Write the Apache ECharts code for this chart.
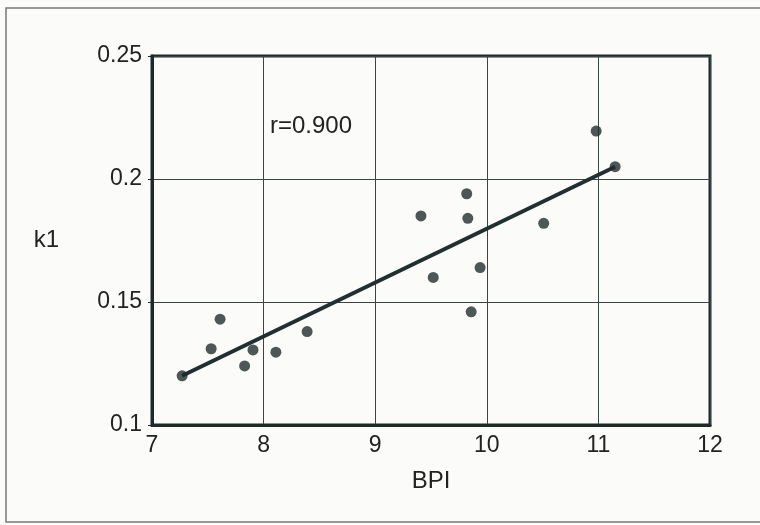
<!DOCTYPE html>
<html>
<head>
<meta charset="utf-8">
<script src="https://cdn.jsdelivr.net/npm/echarts@6/dist/echarts.min.js"></script>
<style>html,body{margin:0;padding:0;background:#fbfcfa;}#c{width:760px;height:525px;}</style>
</head>
<body>
<div id="c"></div>
<script>
var bpi = [7.27, 7.53, 7.61, 7.83, 7.905, 8.11, 8.39, 9.41, 9.52, 9.82, 9.83, 9.86, 9.94, 10.51, 10.98, 11.15];
var k1  = [0.120, 0.131, 0.143, 0.124, 0.1305, 0.1296, 0.138, 0.185, 0.160, 0.194, 0.184, 0.146, 0.164, 0.182, 0.2195, 0.205];
var fitX = [7.27, 11.15];
var fitY = [0.120, 0.205];
var xTicks = ['7', '8', '9', '10', '11', '12'];
var yTicks = ['0.1', '0.15', '0.2', '0.25'];
var annotation = 'r=0.900';

var pts = bpi.map(function (x, i) { return [x, k1[i]]; });
var fit = fitX.map(function (x, i) { return [x, fitY[i]]; });

var chart = echarts.init(document.getElementById('c'), null, {renderer: 'canvas'});
var ink = '#1e2a2a';
var font = 'Liberation Sans';
chart.setOption({
  backgroundColor: '#fbfcfa',
  animation: false,
  textStyle: {fontFamily: font},
  graphic: [
    {type: 'rect', shape: {x: 6, y: 8, width: 800, height: 514}, style: {fill: 'none', stroke: '#777', lineWidth: 1.5}, silent: true},
    {type: 'text', left: 270, top: 114, style: {text: annotation, font: '24px "Liberation Sans"', fill: '#222'}}
  ],
  grid: {left: 152, right: 50, top: 56, bottom: 100, show: true, borderColor: ink, borderWidth: 3, backgroundColor: 'transparent'},
  xAxis: {
    type: 'value', min: 7, max: 12, interval: 1,
    name: 'BPI', nameLocation: 'middle', nameGap: 44,
    nameTextStyle: {fontSize: 24, color: '#222', fontFamily: font},
    axisLine: {show: true, lineStyle: {color: ink, width: 3}},
    axisTick: {show: false},
    axisLabel: {fontSize: 23, color: '#222', margin: 9, fontFamily: font,
      formatter: function (v) { return xTicks[Math.round(v - 7)]; }},
    splitLine: {show: true, lineStyle: {color: '#3a4444', width: 1}}
  },
  yAxis: {
    type: 'value', min: 0.1, max: 0.25, interval: 0.05,
    name: 'k1', nameLocation: 'middle', nameGap: 93, nameRotate: 0,
    nameTextStyle: {fontSize: 24, color: '#222', fontFamily: font},
    axisLine: {show: true, lineStyle: {color: ink, width: 3}},
    axisTick: {show: true, length: 4, lineStyle: {color: ink, width: 1}},
    axisLabel: {fontSize: 23, color: '#222', margin: 10, fontFamily: font,
      formatter: function (v) { return yTicks[Math.round((v - 0.1) / 0.05)]; }},
    splitLine: {show: true, lineStyle: {color: '#3a4444', width: 1}}
  },
  series: [
    {type: 'line', data: fit, symbol: 'none', lineStyle: {color: '#203030', width: 4}, z: 2},
    {type: 'scatter', data: pts, symbolSize: 11, itemStyle: {color: '#222d2d'}, z: 3}
  ]
});
</script>
</body>
</html>
